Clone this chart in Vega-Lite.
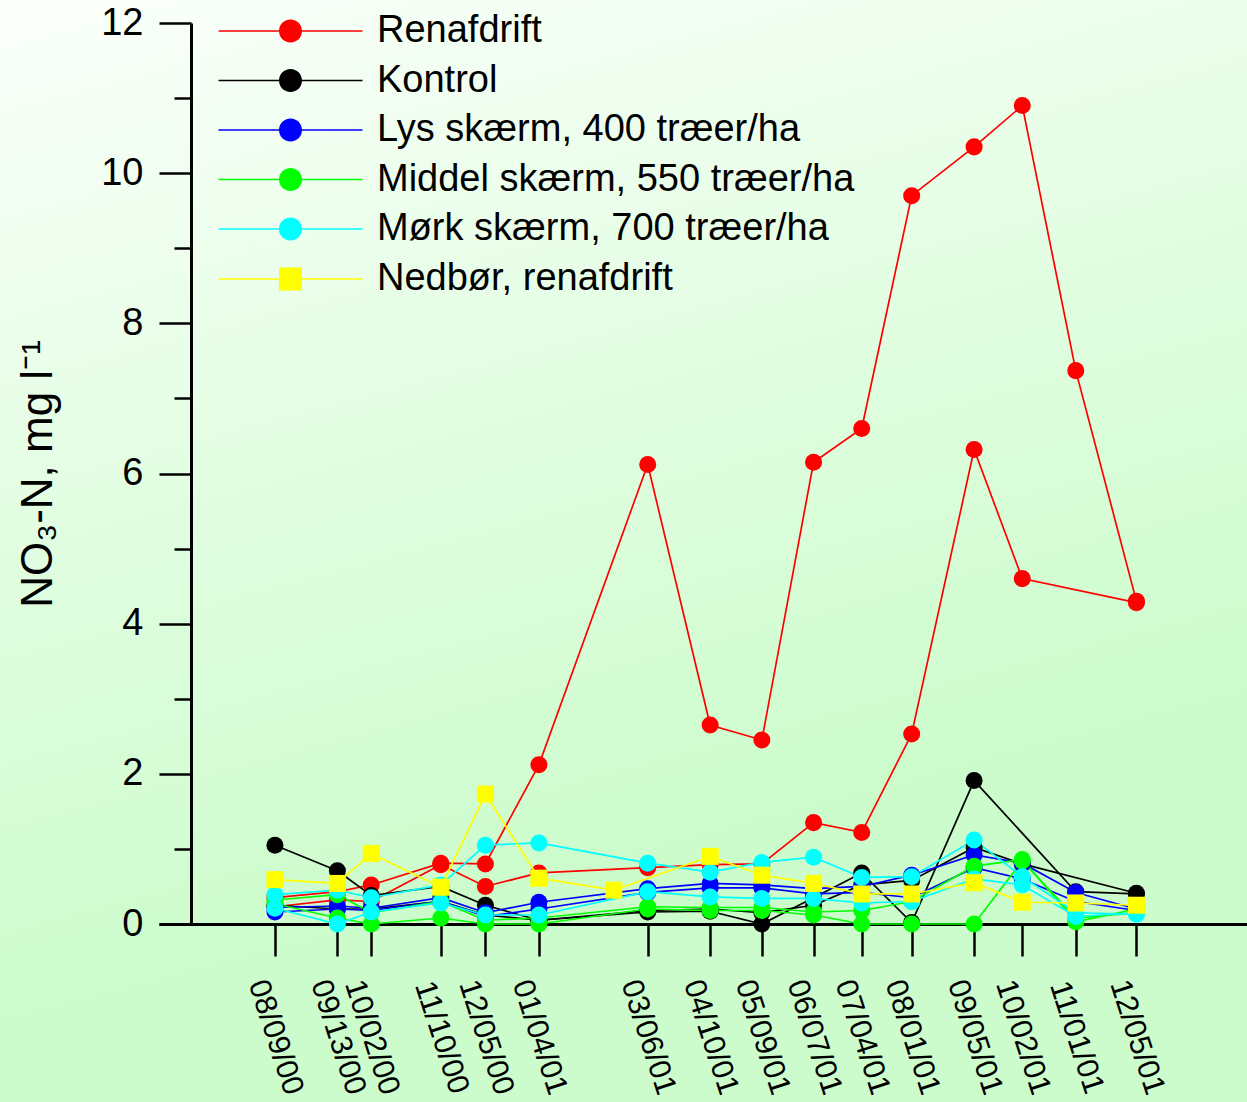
{
  "$schema": "https://vega.github.io/schema/vega-lite/v6.json",
  "width": 1247,
  "height": 1102,
  "autosize": {"type": "none"},
  "padding": 0,
  "background": "#ccffcc",
  "view": {"stroke": null, "fill": {"gradient": "linear", "x1": 0, "y1": 0, "x2": 0.3, "y2": 1, "stops": [{"offset": 0, "color": "#fbfffb"}, {"offset": 0.85, "color": "#ccfccc"}, {"offset": 1, "color": "#ccfccc"}]}},
  "config": {"font": "Liberation Sans"},
  "data": {"values": [
    {"d":"2000-08-09","s":"Renafdrift","r":"a","v":0.35},
    {"d":"2000-09-13","s":"Renafdrift","r":"a","v":0.43},
    {"d":"2000-10-02","s":"Renafdrift","r":"a","v":0.52},
    {"d":"2000-11-10","s":"Renafdrift","r":"a","v":0.81},
    {"d":"2000-12-05","s":"Renafdrift","r":"a","v":0.80},
    {"d":"2001-01-04","s":"Renafdrift","r":"a","v":2.12},
    {"d":"2001-03-06","s":"Renafdrift","r":"a","v":6.12},
    {"d":"2001-04-10","s":"Renafdrift","r":"a","v":2.65},
    {"d":"2001-05-09","s":"Renafdrift","r":"a","v":2.45},
    {"d":"2001-06-07","s":"Renafdrift","r":"a","v":6.15},
    {"d":"2001-07-04","s":"Renafdrift","r":"a","v":6.60},
    {"d":"2001-08-01","s":"Renafdrift","r":"a","v":9.70},
    {"d":"2001-09-05","s":"Renafdrift","r":"a","v":10.35},
    {"d":"2001-10-02","s":"Renafdrift","r":"a","v":10.90},
    {"d":"2001-11-01","s":"Renafdrift","r":"a","v":7.37},
    {"d":"2001-12-05","s":"Renafdrift","r":"a","v":4.30},
    {"d":"2000-08-09","s":"Renafdrift","r":"b","v":0.23},
    {"d":"2000-09-13","s":"Renafdrift","r":"b","v":0.32},
    {"d":"2000-10-02","s":"Renafdrift","r":"b","v":0.30},
    {"d":"2000-11-10","s":"Renafdrift","r":"b","v":0.79},
    {"d":"2000-12-05","s":"Renafdrift","r":"b","v":0.50},
    {"d":"2001-01-04","s":"Renafdrift","r":"b","v":0.68},
    {"d":"2001-03-06","s":"Renafdrift","r":"b","v":0.75},
    {"d":"2001-04-10","s":"Renafdrift","r":"b","v":0.79},
    {"d":"2001-05-09","s":"Renafdrift","r":"b","v":0.80},
    {"d":"2001-06-07","s":"Renafdrift","r":"b","v":1.35},
    {"d":"2001-07-04","s":"Renafdrift","r":"b","v":1.22},
    {"d":"2001-08-01","s":"Renafdrift","r":"b","v":2.53},
    {"d":"2001-09-05","s":"Renafdrift","r":"b","v":6.32},
    {"d":"2001-10-02","s":"Renafdrift","r":"b","v":4.60},
    {"d":"2001-12-05","s":"Renafdrift","r":"b","v":4.28},
    {"d":"2000-08-09","s":"Kontrol","r":"a","v":1.05},
    {"d":"2000-09-13","s":"Kontrol","r":"a","v":0.71},
    {"d":"2000-10-02","s":"Kontrol","r":"a","v":0.38},
    {"d":"2000-11-10","s":"Kontrol","r":"a","v":0.50},
    {"d":"2000-12-05","s":"Kontrol","r":"a","v":0.25},
    {"d":"2001-01-04","s":"Kontrol","r":"a","v":0.05},
    {"d":"2001-03-06","s":"Kontrol","r":"a","v":0.16},
    {"d":"2001-04-10","s":"Kontrol","r":"a","v":0.17},
    {"d":"2001-05-09","s":"Kontrol","r":"a","v":0.00},
    {"d":"2001-06-07","s":"Kontrol","r":"a","v":0.35},
    {"d":"2001-07-04","s":"Kontrol","r":"a","v":0.68},
    {"d":"2001-08-01","s":"Kontrol","r":"a","v":0.02},
    {"d":"2001-09-05","s":"Kontrol","r":"a","v":1.91},
    {"d":"2001-11-01","s":"Kontrol","r":"a","v":0.43},
    {"d":"2001-12-05","s":"Kontrol","r":"a","v":0.40},
    {"d":"2000-08-09","s":"Kontrol","r":"b","v":0.25},
    {"d":"2000-09-13","s":"Kontrol","r":"b","v":0.20},
    {"d":"2000-10-02","s":"Kontrol","r":"b","v":0.20},
    {"d":"2000-11-10","s":"Kontrol","r":"b","v":0.30},
    {"d":"2000-12-05","s":"Kontrol","r":"b","v":0.12},
    {"d":"2001-01-04","s":"Kontrol","r":"b","v":0.05},
    {"d":"2001-03-06","s":"Kontrol","r":"b","v":0.18},
    {"d":"2001-04-10","s":"Kontrol","r":"b","v":0.20},
    {"d":"2001-05-09","s":"Kontrol","r":"b","v":0.15},
    {"d":"2001-06-07","s":"Kontrol","r":"b","v":0.25},
    {"d":"2001-07-04","s":"Kontrol","r":"b","v":0.52},
    {"d":"2001-08-01","s":"Kontrol","r":"b","v":0.58},
    {"d":"2001-09-05","s":"Kontrol","r":"b","v":1.02},
    {"d":"2001-10-02","s":"Kontrol","r":"b","v":0.80},
    {"d":"2001-12-05","s":"Kontrol","r":"b","v":0.41},
    {"d":"2000-08-09","s":"Lys skærm, 400 træer/ha","r":"a","v":0.22},
    {"d":"2000-09-13","s":"Lys skærm, 400 træer/ha","r":"a","v":0.24},
    {"d":"2000-10-02","s":"Lys skærm, 400 træer/ha","r":"a","v":0.21},
    {"d":"2000-11-10","s":"Lys skærm, 400 træer/ha","r":"a","v":0.35},
    {"d":"2000-12-05","s":"Lys skærm, 400 træer/ha","r":"a","v":0.15},
    {"d":"2001-01-04","s":"Lys skærm, 400 træer/ha","r":"a","v":0.29},
    {"d":"2001-03-06","s":"Lys skærm, 400 træer/ha","r":"a","v":0.47},
    {"d":"2001-04-10","s":"Lys skærm, 400 træer/ha","r":"a","v":0.54},
    {"d":"2001-05-09","s":"Lys skærm, 400 træer/ha","r":"a","v":0.52},
    {"d":"2001-06-07","s":"Lys skærm, 400 træer/ha","r":"a","v":0.47},
    {"d":"2001-07-04","s":"Lys skærm, 400 træer/ha","r":"a","v":0.50},
    {"d":"2001-08-01","s":"Lys skærm, 400 træer/ha","r":"a","v":0.65},
    {"d":"2001-09-05","s":"Lys skærm, 400 træer/ha","r":"a","v":0.92},
    {"d":"2001-10-02","s":"Lys skærm, 400 træer/ha","r":"a","v":0.81},
    {"d":"2001-11-01","s":"Lys skærm, 400 træer/ha","r":"a","v":0.42},
    {"d":"2001-12-05","s":"Lys skærm, 400 træer/ha","r":"a","v":0.20},
    {"d":"2000-08-09","s":"Lys skærm, 400 træer/ha","r":"b","v":0.16},
    {"d":"2000-09-13","s":"Lys skærm, 400 træer/ha","r":"b","v":0.20},
    {"d":"2000-10-02","s":"Lys skærm, 400 træer/ha","r":"b","v":0.18},
    {"d":"2000-11-10","s":"Lys skærm, 400 træer/ha","r":"b","v":0.30},
    {"d":"2000-12-05","s":"Lys skærm, 400 træer/ha","r":"b","v":0.10},
    {"d":"2001-01-04","s":"Lys skærm, 400 træer/ha","r":"b","v":0.20},
    {"d":"2001-03-06","s":"Lys skærm, 400 træer/ha","r":"b","v":0.42},
    {"d":"2001-04-10","s":"Lys skærm, 400 træer/ha","r":"b","v":0.48},
    {"d":"2001-05-09","s":"Lys skærm, 400 træer/ha","r":"b","v":0.48},
    {"d":"2001-06-07","s":"Lys skærm, 400 træer/ha","r":"b","v":0.40},
    {"d":"2001-07-04","s":"Lys skærm, 400 træer/ha","r":"b","v":0.42},
    {"d":"2001-08-01","s":"Lys skærm, 400 træer/ha","r":"b","v":0.35},
    {"d":"2001-09-05","s":"Lys skærm, 400 træer/ha","r":"b","v":0.75},
    {"d":"2001-10-02","s":"Lys skærm, 400 træer/ha","r":"b","v":0.60},
    {"d":"2001-11-01","s":"Lys skærm, 400 træer/ha","r":"b","v":0.30},
    {"d":"2001-12-05","s":"Lys skærm, 400 træer/ha","r":"b","v":0.18},
    {"d":"2000-08-09","s":"Middel skærm, 550 træer/ha","r":"a","v":0.32},
    {"d":"2000-09-13","s":"Middel skærm, 550 træer/ha","r":"a","v":0.39},
    {"d":"2000-10-02","s":"Middel skærm, 550 træer/ha","r":"a","v":0.15},
    {"d":"2000-11-10","s":"Middel skærm, 550 træer/ha","r":"a","v":0.30},
    {"d":"2000-12-05","s":"Middel skærm, 550 træer/ha","r":"a","v":0.05},
    {"d":"2001-01-04","s":"Middel skærm, 550 træer/ha","r":"a","v":0.08},
    {"d":"2001-03-06","s":"Middel skærm, 550 træer/ha","r":"a","v":0.23},
    {"d":"2001-04-10","s":"Middel skærm, 550 træer/ha","r":"a","v":0.22},
    {"d":"2001-05-09","s":"Middel skærm, 550 træer/ha","r":"a","v":0.22},
    {"d":"2001-06-07","s":"Middel skærm, 550 træer/ha","r":"a","v":0.16},
    {"d":"2001-07-04","s":"Middel skærm, 550 træer/ha","r":"a","v":0.18},
    {"d":"2001-08-01","s":"Middel skærm, 550 træer/ha","r":"a","v":0.30},
    {"d":"2001-09-05","s":"Middel skærm, 550 træer/ha","r":"a","v":0.77},
    {"d":"2001-10-02","s":"Middel skærm, 550 træer/ha","r":"a","v":0.86},
    {"d":"2001-11-01","s":"Middel skærm, 550 træer/ha","r":"a","v":0.03},
    {"d":"2001-12-05","s":"Middel skærm, 550 træer/ha","r":"a","v":0.20},
    {"d":"2000-08-09","s":"Middel skærm, 550 træer/ha","r":"b","v":0.27},
    {"d":"2000-09-13","s":"Middel skærm, 550 træer/ha","r":"b","v":0.08},
    {"d":"2000-10-02","s":"Middel skærm, 550 træer/ha","r":"b","v":0.00},
    {"d":"2000-11-10","s":"Middel skærm, 550 træer/ha","r":"b","v":0.08},
    {"d":"2000-12-05","s":"Middel skærm, 550 træer/ha","r":"b","v":0.00},
    {"d":"2001-01-04","s":"Middel skærm, 550 træer/ha","r":"b","v":0.00},
    {"d":"2001-03-06","s":"Middel skærm, 550 træer/ha","r":"b","v":0.20},
    {"d":"2001-04-10","s":"Middel skærm, 550 træer/ha","r":"b","v":0.18},
    {"d":"2001-05-09","s":"Middel skærm, 550 træer/ha","r":"b","v":0.18},
    {"d":"2001-06-07","s":"Middel skærm, 550 træer/ha","r":"b","v":0.12},
    {"d":"2001-07-04","s":"Middel skærm, 550 træer/ha","r":"b","v":0.00},
    {"d":"2001-08-01","s":"Middel skærm, 550 træer/ha","r":"b","v":0.00},
    {"d":"2001-09-05","s":"Middel skærm, 550 træer/ha","r":"b","v":0.00},
    {"d":"2001-10-02","s":"Middel skærm, 550 træer/ha","r":"b","v":0.84},
    {"d":"2001-11-01","s":"Middel skærm, 550 træer/ha","r":"b","v":0.08},
    {"d":"2001-12-05","s":"Middel skærm, 550 træer/ha","r":"b","v":0.15},
    {"d":"2000-08-09","s":"Mørk skærm, 700 træer/ha","r":"a","v":0.39},
    {"d":"2000-09-13","s":"Mørk skærm, 700 træer/ha","r":"a","v":0.45},
    {"d":"2000-10-02","s":"Mørk skærm, 700 træer/ha","r":"a","v":0.35},
    {"d":"2000-11-10","s":"Mørk skærm, 700 træer/ha","r":"a","v":0.52},
    {"d":"2000-12-05","s":"Mørk skærm, 700 træer/ha","r":"a","v":1.05},
    {"d":"2001-01-04","s":"Mørk skærm, 700 træer/ha","r":"a","v":1.08},
    {"d":"2001-03-06","s":"Mørk skærm, 700 træer/ha","r":"a","v":0.81},
    {"d":"2001-04-10","s":"Mørk skærm, 700 træer/ha","r":"a","v":0.69},
    {"d":"2001-05-09","s":"Mørk skærm, 700 træer/ha","r":"a","v":0.82},
    {"d":"2001-06-07","s":"Mørk skærm, 700 træer/ha","r":"a","v":0.89},
    {"d":"2001-07-04","s":"Mørk skærm, 700 træer/ha","r":"a","v":0.62},
    {"d":"2001-08-01","s":"Mørk skærm, 700 træer/ha","r":"a","v":0.63},
    {"d":"2001-09-05","s":"Mørk skærm, 700 træer/ha","r":"a","v":1.12},
    {"d":"2001-10-02","s":"Mørk skærm, 700 træer/ha","r":"a","v":0.63},
    {"d":"2001-11-01","s":"Mørk skærm, 700 træer/ha","r":"a","v":0.15},
    {"d":"2001-12-05","s":"Mørk skærm, 700 træer/ha","r":"a","v":0.13},
    {"d":"2000-08-09","s":"Mørk skærm, 700 træer/ha","r":"b","v":0.21},
    {"d":"2000-09-13","s":"Mørk skærm, 700 træer/ha","r":"b","v":0.00},
    {"d":"2000-10-02","s":"Mørk skærm, 700 træer/ha","r":"b","v":0.16},
    {"d":"2000-11-10","s":"Mørk skærm, 700 træer/ha","r":"b","v":0.28},
    {"d":"2000-12-05","s":"Mørk skærm, 700 træer/ha","r":"b","v":0.12},
    {"d":"2001-01-04","s":"Mørk skærm, 700 træer/ha","r":"b","v":0.12},
    {"d":"2001-03-06","s":"Mørk skærm, 700 træer/ha","r":"b","v":0.43},
    {"d":"2001-04-10","s":"Mørk skærm, 700 træer/ha","r":"b","v":0.36},
    {"d":"2001-05-09","s":"Mørk skærm, 700 træer/ha","r":"b","v":0.34},
    {"d":"2001-06-07","s":"Mørk skærm, 700 træer/ha","r":"b","v":0.34},
    {"d":"2001-07-04","s":"Mørk skærm, 700 træer/ha","r":"b","v":0.28},
    {"d":"2001-08-01","s":"Mørk skærm, 700 træer/ha","r":"b","v":0.30},
    {"d":"2001-09-05","s":"Mørk skærm, 700 træer/ha","r":"b","v":0.60},
    {"d":"2001-10-02","s":"Mørk skærm, 700 træer/ha","r":"b","v":0.52},
    {"d":"2001-11-01","s":"Mørk skærm, 700 træer/ha","r":"b","v":0.10},
    {"d":"2001-12-05","s":"Mørk skærm, 700 træer/ha","r":"b","v":0.15},
    {"d":"2000-08-09","s":"Nedbør, renafdrift","r":"a","v":0.59},
    {"d":"2000-09-13","s":"Nedbør, renafdrift","r":"a","v":0.54},
    {"d":"2000-10-02","s":"Nedbør, renafdrift","r":"a","v":0.94},
    {"d":"2000-11-10","s":"Nedbør, renafdrift","r":"a","v":0.49},
    {"d":"2000-12-05","s":"Nedbør, renafdrift","r":"a","v":1.73},
    {"d":"2001-01-04","s":"Nedbør, renafdrift","r":"a","v":0.61},
    {"d":"2001-02-15","s":"Nedbør, renafdrift","r":"a","v":0.45},
    {"d":"2001-04-10","s":"Nedbør, renafdrift","r":"a","v":0.90},
    {"d":"2001-05-09","s":"Nedbør, renafdrift","r":"a","v":0.65},
    {"d":"2001-06-07","s":"Nedbør, renafdrift","r":"a","v":0.54},
    {"d":"2001-07-04","s":"Nedbør, renafdrift","r":"a","v":0.40},
    {"d":"2001-08-01","s":"Nedbør, renafdrift","r":"a","v":0.40},
    {"d":"2001-09-05","s":"Nedbør, renafdrift","r":"a","v":0.55},
    {"d":"2001-10-02","s":"Nedbør, renafdrift","r":"a","v":0.29},
    {"d":"2001-11-01","s":"Nedbør, renafdrift","r":"a","v":0.28},
    {"d":"2001-12-05","s":"Nedbør, renafdrift","r":"a","v":0.25}
  ]},
  "encoding": {
    "x": {
      "field": "d", "type": "temporal", "title": null,
      "scale": {"type": "utc", "range": [159, 1247], "domain": [{"year": 2000, "month": 6, "date": 5, "utc": true}, {"year": 2002, "month": 2, "date": 5, "utc": true}]},
      "axis": {
        "values": [
          {"year": 2000, "month": 8, "date": 9, "utc": true},
          {"year": 2000, "month": 9, "date": 13, "utc": true},
          {"year": 2000, "month": 10, "date": 2, "utc": true},
          {"year": 2000, "month": 11, "date": 10, "utc": true},
          {"year": 2000, "month": 12, "date": 5, "utc": true},
          {"year": 2001, "month": 1, "date": 4, "utc": true},
          {"year": 2001, "month": 3, "date": 6, "utc": true},
          {"year": 2001, "month": 4, "date": 10, "utc": true},
          {"year": 2001, "month": 5, "date": 9, "utc": true},
          {"year": 2001, "month": 6, "date": 7, "utc": true},
          {"year": 2001, "month": 7, "date": 4, "utc": true},
          {"year": 2001, "month": 8, "date": 1, "utc": true},
          {"year": 2001, "month": 9, "date": 5, "utc": true},
          {"year": 2001, "month": 10, "date": 2, "utc": true},
          {"year": 2001, "month": 11, "date": 1, "utc": true},
          {"year": 2001, "month": 12, "date": 5, "utc": true}
        ],
        "labelExpr": "utcFormat(datum.value, '%m/%d/%y')",
        "offset": -178,
        "grid": false, "domainColor": "black", "domainWidth": 3,
        "tickColor": "black", "tickWidth": 2.5, "tickSize": 32,
        "labelAngle": 72, "labelAlign": "center", "labelBaseline": "middle",
        "labelPadding": 81, "labelFontSize": 30.5, "labelColor": "black",
        "labelFont": "Liberation Sans",
        "labelOverlap": false, "labelFlush": false, "labelBound": false
      }
    },
    "y": {
      "field": "v", "type": "quantitative", "title": "NO₃-N, mg l⁻¹",
      "scale": {"domain": [0, 12], "nice": false, "range": [924, 23]},
      "axis": {
        "values": [0, 1, 2, 3, 4, 5, 6, 7, 8, 9, 10, 11, 12],
        "labelExpr": "datum.value % 2 === 0 ? datum.label : ''",
        "tickSize": {"condition": {"test": "datum.value % 2 === 0", "value": 32}, "value": 17},
        "offset": -191, "grid": false,
        "domainColor": "black", "domainWidth": 3,
        "tickColor": "black", "tickWidth": 2.5,
        "labelFontSize": 38, "labelPadding": 16, "labelColor": "black", "labelFont": "Liberation Sans",
        "titleFontSize": 44, "titleFontWeight": "normal", "titleColor": "black", "titleFont": "Liberation Sans",
        "titlePadding": 40
      }
    }
  },
  "layer": [
    {
      "transform": [{"filter": "datum.s !== 'Nedbør, renafdrift'"}],
      "mark": {"type": "line", "strokeWidth": 1.7},
      "encoding": {
        "detail": {"field": "r", "type": "nominal"},
        "stroke": {"field": "s", "type": "nominal", "legend": null,
          "scale": {"domain": ["Kontrol", "Lys skærm, 400 træer/ha", "Middel skærm, 550 træer/ha", "Mørk skærm, 700 træer/ha", "Renafdrift"], "range": ["#000000", "#0000ff", "#00ff00", "#00ffff", "#ff0000"]}}
      }
    },
    {
      "transform": [{"filter": "datum.s !== 'Nedbør, renafdrift'"}],
      "mark": {"type": "point", "filled": true, "size": 290, "opacity": 1, "shape": "circle"},
      "encoding": {
        "color": {"field": "s", "type": "nominal",
          "scale": {"domain": ["Renafdrift", "Kontrol", "Lys skærm, 400 træer/ha", "Middel skærm, 550 træer/ha", "Mørk skærm, 700 træer/ha"], "range": ["#ff0000", "#000000", "#0000ff", "#00ff00", "#00ffff"]},
          "legend": {
            "orient": "none", "legendX": 271.5, "legendY": 12,
            "title": null, "padding": 0, "rowPadding": 11.5,
            "labelFont": "Liberation Sans", "labelFontSize": 38, "labelColor": "black",
            "labelOffset": 67.5, "labelLimit": 0, "symbolSize": 529, "symbolOpacity": 1,
            "symbolStrokeWidth": 0,
            "symbolType": "M-6.26,-0.065H6.26V0.065H-6.26ZM1,0A1,1,0,1,1,-1,0A1,1,0,1,1,1,0Z"
          }
        }
      }
    },
    {
      "transform": [{"filter": "datum.s === 'Nedbør, renafdrift'"}],
      "mark": {"type": "line", "strokeWidth": 1.7, "color": "#ffff00"},
      "encoding": {}
    },
    {
      "transform": [{"filter": "datum.s === 'Nedbør, renafdrift'"}],
      "mark": {"type": "point", "filled": true, "size": 290, "opacity": 1, "shape": "square"},
      "encoding": {
        "fill": {"field": "s", "type": "nominal",
          "scale": {"domain": ["Nedbør, renafdrift"], "range": ["#ffff00"]},
          "legend": {
            "orient": "none", "legendX": 271.5, "legendY": 260,
            "title": null, "padding": 0, "rowPadding": 11.5,
            "labelFont": "Liberation Sans", "labelFontSize": 38, "labelColor": "black",
            "labelOffset": 67.5, "labelLimit": 0, "symbolSize": 529, "symbolOpacity": 1,
            "symbolStrokeWidth": 0,
            "symbolType": "M-6.26,-0.065H6.26V0.065H-6.26ZM-1,-1H1V1H-1Z"
          }
        }
      }
    }
  ]
}
